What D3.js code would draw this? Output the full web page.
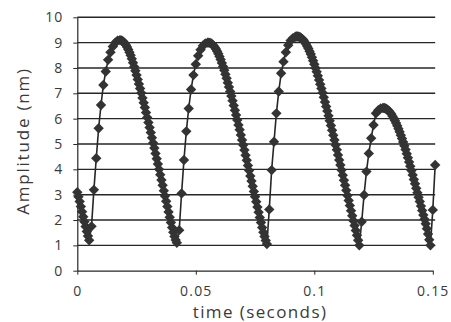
<!DOCTYPE html>
<html>
<head>
<meta charset="utf-8">
<script src="https://cdn.jsdelivr.net/npm/d3@7"></script>
<style>
  body { margin: 0; background: #fff; }
  svg { display: block; }
  text { font-family: "Open Sans", "Noto Sans", sans-serif; fill: #3a3a3a; }
</style>
</head>
<body>
<svg id="chart" width="451" height="322"></svg>
<script>
// the trace is sampled finely on the slow falls and coarsely on the fast rises,
// so it is kept as runs: each run has a start time (s), a step (s) and its amplitudes (nm)
const runStart = [0, 0.006, 0.018, 0.043, 0.055, 0.081, 0.092, 0.120, 0.129, 0.150]
const runStep = [0.0005, 0.001, 0.0005, 0.001, 0.0005, 0.001, 0.0005, 0.001, 0.0005, 0.001]

const fall0 = [3.10, 2.92, 2.73, 2.53, 2.33, 2.13, 1.93, 1.74, 1.55, 1.37, 1.20]
const rise1 = [1.75, 3.19, 4.44, 5.62, 6.54, 7.33, 7.86, 8.32, 8.62, 8.85, 9.00, 9.08]
const fall1 = [
  9.10, 9.09, 9.07, 9.03, 8.98, 8.91, 8.83, 8.73, 8.62, 8.50, 8.36, 8.21, 8.05,
  7.89, 7.72, 7.55, 7.37, 7.19, 7.01, 6.82, 6.63, 6.44, 6.24, 6.05, 5.85, 5.65,
  5.45, 5.25, 5.04, 4.84, 4.63, 4.42, 4.21, 4.00, 3.79, 3.58, 3.37, 3.16, 2.95,
  2.74, 2.53, 2.32, 2.11, 1.90, 1.70, 1.52, 1.35, 1.21, 1.10
]
const rise2 = [1.60, 3.05, 4.37, 5.50, 6.40, 7.15, 7.72, 8.15, 8.48, 8.72, 8.88, 8.97]
const fall2 = [
  9.00, 9.00, 8.99, 8.97, 8.93, 8.88, 8.82, 8.75, 8.66, 8.56, 8.45, 8.33, 8.20,
  8.06, 7.91, 7.75, 7.59, 7.42, 7.25, 7.07, 6.89, 6.71, 6.52, 6.33, 6.14, 5.95,
  5.75, 5.56, 5.36, 5.16, 4.96, 4.76, 4.56, 4.36, 4.15, 3.95, 3.74, 3.54, 3.33,
  3.13, 2.92, 2.72, 2.51, 2.31, 2.10, 1.90, 1.70, 1.52, 1.35, 1.19, 1.05
]
const rise3 = [2.42, 3.97, 5.09, 6.21, 7.07, 7.79, 8.25, 8.62, 8.90, 9.08, 9.18]
const fall3 = [
  9.23, 9.24, 9.24, 9.23, 9.21, 9.18, 9.14, 9.09, 9.02, 8.95, 8.86, 8.77, 8.66,
  8.55, 8.42, 8.29, 8.15, 8.00, 7.85, 7.69, 7.53, 7.36, 7.19, 7.02, 6.84, 6.66,
  6.48, 6.30, 6.11, 5.92, 5.73, 5.54, 5.35, 5.16, 4.96, 4.77, 4.57, 4.37, 4.17,
  3.97, 3.77, 3.57, 3.37, 3.17, 2.97, 2.77, 2.57, 2.37, 2.17, 1.97, 1.78, 1.59,
  1.40, 1.20, 1.00
]
const rise4 = [1.93, 2.99, 3.91, 4.63, 5.23, 5.75, 6.21, 6.33, 6.40]
const fall4 = [
  6.42, 6.42, 6.40, 6.38, 6.34, 6.30, 6.24, 6.18, 6.10, 6.02, 5.93, 5.83, 5.72,
  5.60, 5.48, 5.35, 5.22, 5.08, 4.93, 4.78, 4.62, 4.46, 4.29, 4.12, 3.95, 3.78,
  3.60, 3.43, 3.25, 3.08, 2.90, 2.73, 2.55, 2.38, 2.20, 2.03, 1.85, 1.66, 1.45,
  1.22, 1.00
]
const rise5 = [2.40, 4.17]

const runs = [fall0, rise1, fall1, rise2, fall2, rise3, fall3, rise4, fall4, rise5]

const yTicks = [0, 1, 2, 3, 4, 5, 6, 7, 8, 9, 10]
const xTicks = [0, 0.05, 0.1, 0.15]
const xTickLabels = ['0', '0.05', '0.1', '0.15']

const points = runs.flatMap((values, k) =>
  values.map((a, j) => ({t: runStart[k] + j * runStep[k], a})))

const svg = d3.select('#chart')
const ink = '#262626'

const x = d3.scaleLinear().domain([0, 0.15]).range([77.3, 432.8])
const y = d3.scaleLinear().domain([0, 10]).range([270.7, 17.3])

// horizontal gridlines
svg.append('g')
  .selectAll('line')
  .data(yTicks.filter(d => d > 0))
  .join('line')
  .attr('x1', x(0))
  .attr('x2', x(0.151))
  .attr('y1', d => y(d))
  .attr('y2', d => y(d))
  .attr('stroke', ink)
  .attr('stroke-width', 1.4)

// y axis
const yAxis = svg.append('g')
  .attr('transform', `translate(${x(0)},0)`)
  .call(d3.axisLeft(y).tickValues(yTicks).tickSize(4).tickSizeOuter(0).tickPadding(10))
yAxis.select('.domain').attr('stroke', ink).attr('stroke-width', 1.2)
yAxis.selectAll('.tick line').attr('stroke', ink)
yAxis.selectAll('text')
  .attr('font-size', 14)
  .attr('letter-spacing', 1)
  .attr('fill', '#3a3a3a')

// x axis
const xAxis = svg.append('g')
  .attr('transform', `translate(0,${y(0)})`)
  .call(d3.axisBottom(x).tickValues(xTicks).tickFormat((d, i) => xTickLabels[i]).tickSize(4).tickSizeOuter(0).tickPadding(11))
xAxis.select('.domain').attr('stroke', ink).attr('stroke-width', 1.2)
xAxis.selectAll('.tick line').attr('stroke', ink)
xAxis.selectAll('text')
  .attr('font-size', 14)
  .attr('letter-spacing', 1.2)
  .attr('fill', '#3a3a3a')

// series line
const line = d3.line().x(d => x(d.t)).y(d => y(d.a))
svg.append('path')
  .datum(points)
  .attr('d', line)
  .attr('fill', 'none')
  .attr('stroke', ink)
  .attr('stroke-width', 1.6)

// diamond markers
const r = 5.2
svg.append('g')
  .selectAll('path')
  .data(points)
  .join('path')
  .attr('d', `M0,${-r}L${r},0L0,${r}L${-r},0Z`)
  .attr('transform', d => `translate(${x(d.t)},${y(d.a)})`)
  .attr('fill', '#333')

// axis titles
svg.append('text')
  .attr('x', 260)
  .attr('y', 318)
  .attr('text-anchor', 'middle')
  .attr('font-size', 17)
  .attr('letter-spacing', 1.4)
  .text('time (seconds)')

svg.append('text')
  .attr('transform', 'translate(29,141) rotate(-90)')
  .attr('text-anchor', 'middle')
  .attr('font-size', 17)
  .attr('letter-spacing', 1.8)
  .text('Amplitude (nm)')
</script>
</body>
</html>
